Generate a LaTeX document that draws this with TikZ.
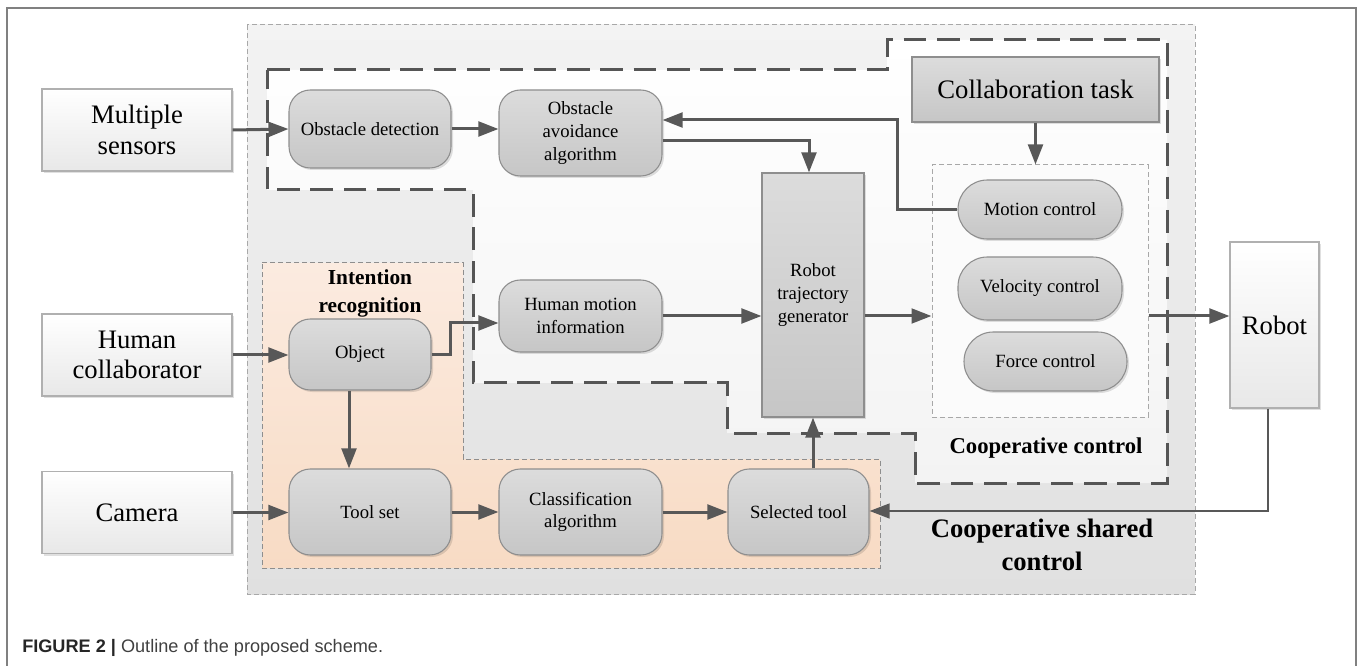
\documentclass[tikz,border=0pt]{standalone}
\usepackage{fontspec}
\setmainfont{Liberation Serif}
\newfontfamily\capfont{Liberation Sans}
\usetikzlibrary{arrows.meta,shadows}
\def\px{0.75pt}
\definecolor{framec}{HTML}{808080}
\definecolor{arrc}{HTML}{585858}
\definecolor{nodebd}{HTML}{8E8E8E}
\definecolor{ntop}{HTML}{DCDCDC}
\definecolor{nbot}{HTML}{C6C6C6}
\definecolor{wtop}{HTML}{FFFFFF}
\definecolor{wbot}{HTML}{E8E8E8}
\definecolor{wbd}{HTML}{B0B0B0}
\definecolor{regtop}{HTML}{F3F3F3}
\definecolor{regbot}{HTML}{E0E0E0}
\definecolor{regbd}{HTML}{A8A8A8}
\definecolor{ortop}{HTML}{FBEBE0}
\definecolor{orbot}{HTML}{F8DBC4}
\definecolor{thd}{HTML}{555555}
\definecolor{captxt}{HTML}{404040}
\tikzset{
  fsmall/.style={font=\fontsize{14}{17}\selectfont},
  flarge/.style={font=\fontsize{20}{23}\selectfont},
  shad/.style={drop shadow={shadow xshift=1.5pt, shadow yshift=-1.5pt, fill=black, opacity=0.12}},
  rbox/.style={fsmall, draw=nodebd, line width=0.8pt, top color=ntop, bottom color=nbot,
    rounded corners=16pt, align=center, inner sep=2pt, shad},
  gbox/.style={draw=nodebd, line width=0.8pt, top color=ntop, bottom color=nbot,
    align=center, inner sep=2pt, shad},
  wbox/.style={flarge, draw=wbd, line width=0.8pt, top color=wtop, bottom color=wbot,
    align=center, inner sep=2pt, shad},
  arr/.style={draw=arrc, line width=2.25pt, -{Triangle[length=15pt,width=11pt]}},
  thdash/.style={draw=thd, line width=2.25pt, dash pattern=on 17pt off 8pt},
  thindash/.style={draw=regbd, line width=0.75pt, dash pattern=on 4pt off 2pt},
}
\begin{document}
\begin{tikzpicture}[x=0.75pt,y=-0.75pt]
\useasboundingbox (0,0) rectangle (1363,666);
% outer frame
\draw[framec, line width=1.5pt] (7,672) -- (7,8) -- (1356,8) -- (1356,672);
% cooperative shared control region
\path[thindash, top color=regtop, bottom color=regbot] (247,25) rectangle (1195,594);
% cooperative control (thick dashed) region
\path[thdash, top color=white, bottom color=regtop]
  (267,70) -- (887,70) -- (887,40) -- (1167,40) -- (1167,483) -- (915,483)
  -- (915,433) -- (727,433) -- (727,383) -- (473,383) -- (473,190) -- (267,190) -- cycle;
% intention recognition region
\path[thindash, draw=nodebd, top color=ortop, bottom color=orbot]
  (262,263) -- (463,263) -- (463,459) -- (880,459) -- (880,568) -- (262,568) -- cycle;
% inner control box
\node[thindash, fill=white!70!regtop, minimum width=216*\px, minimum height=252*\px] (ccb) at (1040,291) {};

% input boxes
\node[wbox, minimum width=190*\px, minimum height=82*\px] (ms) at (137,130) {Multiple\\sensors};
\node[wbox, minimum width=190*\px, minimum height=82*\px] (hc) at (137,355) {Human\\collaborator};
\node[wbox, minimum width=190*\px, minimum height=82*\px] (cam) at (137,512.5) {Camera};
\node[wbox, minimum width=89*\px, minimum height=166*\px] (rob) at (1274.5,325) {Robot};

% processing nodes
\node[rbox, minimum width=162*\px, minimum height=78*\px] (od) at (370,129) {Obstacle detection};
\node[rbox, minimum width=163*\px, minimum height=86*\px] (oaa) at (580.5,133) {Obstacle\\avoidance\\algorithm};
\node[gbox, flarge, minimum width=247*\px, minimum height=65*\px] (ct) at (1035.5,89.5) {Collaboration task};
\node[gbox, fsmall, minimum width=102*\px, minimum height=244*\px] (rtg) at (813,295) {Robot\\trajectory\\generator};
\node[rbox, rounded corners=22pt, minimum width=164*\px, minimum height=59*\px] (mot) at (1040,209.5) {Motion control};
\node[rbox, rounded corners=22pt, minimum width=164*\px, minimum height=63*\px] (vel) at (1040,288.5) {Velocity control};
\node[rbox, rounded corners=22pt, minimum width=163*\px, minimum height=59*\px] (frc) at (1045.5,361.5) {Force control};
\node[rbox, minimum width=163*\px, minimum height=72*\px] (hmi) at (580.5,316) {Human motion\\information};
\node[rbox, minimum width=142*\px, minimum height=71*\px] (obj) at (360,354.5) {Object};
\node[rbox, minimum width=162*\px, minimum height=86*\px] (ts) at (370,512) {Tool set};
\node[rbox, minimum width=163*\px, minimum height=86*\px] (ca) at (580.5,512) {Classification\\algorithm};
\node[rbox, minimum width=141*\px, minimum height=86*\px] (st) at (798.5,512) {Selected tool};

% labels
\node[font=\bfseries\fontsize{16}{21}\selectfont, align=center] (irl) at (370,293) {Intention\\recognition};
\node[font=\bfseries\fontsize{17}{20}\selectfont] (ccl) at (1046,448) {Cooperative control};
\node[font=\bfseries\fontsize{20}{25}\selectfont, align=center] (cscl) at (1042,545) {Cooperative shared\\control};

% helper coordinates
\coordinate (c1) at (897,120);
\coordinate (c2) at (809,141);
\coordinate (c3) at (450,323);
\coordinate (c4) at (349,0);
\coordinate (c5) at (1268,511);

% connectors
\draw[arr] (ms.east) -- (od.west);
\draw[arr] (od.east) -- (od.east -| oaa.west);
\draw[arr] (mot.west) -| (c1) -- (c1 -| oaa.east);
\draw[arr] (c2 -| oaa.east) -| (rtg.north -| c2);
\draw[arr] (ct.south) -- (ct.south |- ccb.north);
\draw[arr] (hc.east) -- (hc.east -| obj.west);
\draw[arr] (obj.east) -| (c3) -- (c3 -| hmi.west);
\draw[arr] (hmi.east) -- (hmi.east -| rtg.west);
\draw[arr] (rtg.east |- hmi.east) -- (hmi.east -| ccb.west);
\draw[arr] (ccb.east |- hmi.east) -- (hmi.east -| rob.west);
\draw[arr] (obj.south -| c4) -- (ts.north -| c4);
\draw[arr] (cam.east) -- (cam.east -| ts.west);
\draw[arr] (ts.east) -- (ca.west);
\draw[arr] (ca.east) -- (st.west);
\draw[arr] (rtg.south |- st.north) -- (rtg.south);
\draw[arr, line width=1.7pt] (rob.south -| c5) -- (c5) -- (c5 -| st.east);

% caption
\node[anchor=base west, inner sep=0pt, text=captxt, font=\capfont\fontsize{13.6}{16}\selectfont] (cap) at (22,652)
  {\textbf{\color{black!85}FIGURE 2 |} Outline of the proposed scheme.};
\end{tikzpicture}
\end{document}
